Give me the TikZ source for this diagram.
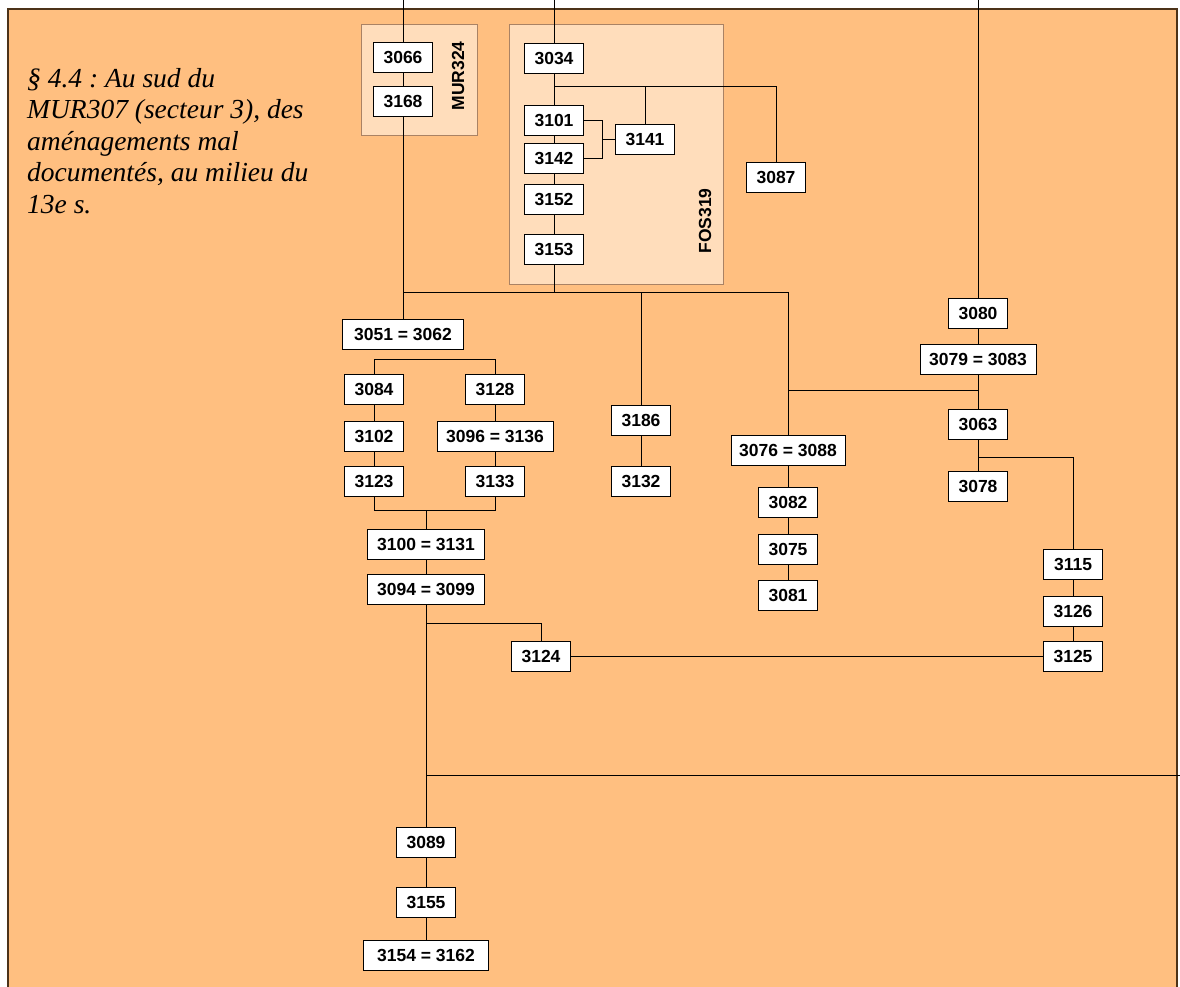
\documentclass[tikz,border=0pt]{standalone}
\usepackage{fontspec}
\setmainfont{Liberation Serif}
\newfontfamily\boxfont{Liberation Sans}
\definecolor{fondorange}{RGB}{255,191,128}
\definecolor{fondpanel}{RGB}{255,221,187}
\definecolor{bordpanel}{RGB}{170,130,100}
\tikzset{
  unit/.style={draw=black, line width=1pt, fill=white, minimum width=59pt, minimum height=30pt,
    inner sep=2pt, font=\boxfont\fontsize{17.5}{19}\bfseries\selectfont},
  unitwide/.style={unit, minimum width=116pt},
  panel/.style={draw=bordpanel, line width=0.8pt, fill=fondpanel},
  tag/.style={rotate=90, font=\boxfont\fontsize{17.5}{19}\bfseries\selectfont},
  link/.style={line width=1pt}
}
\begin{document}
\frenchspacing
\begin{tikzpicture}[x=1pt,y=-1pt]
                \useasboundingbox (0,0) rectangle (1180,986);
                \fill[white] (0,0) rectangle (1180,986);
                \filldraw[fill=fondorange, draw=black!60!brown, line width=1.2pt] (8,9) rectangle (1177,995);

                % groupes
                \draw[panel] (361,24) rectangle (477,135);
                \node[tag] (mur) at (458,76) {MUR324};
                \draw[panel] (509,24) rectangle (723,284);
                \node[tag] (fos) at (705,221) {FOS319};

                \node[anchor=north west, align=left, inner sep=0pt,
                      font=\fontsize{27.5}{31.5}\itshape\selectfont] (titre) at (27,68)
                      {§ 4.4 : Au sud du\\MUR307 (secteur 3), des\\am\'enagements mal\\document\'es, au milieu du\\13e s.};

                % unites
                \node[unit] (u3066) at (403,57) {3066};
                \node[unit] (u3168) at (403,101) {3168};
                \node[unit] (u3034) at (554,58) {3034};
                \node[unit] (u3101) at (554,120) {3101};
                \node[unit] (u3142) at (554,158) {3142};
                \node[unit] (u3141) at (645,139) {3141};
                \node[unit] (u3152) at (554,199) {3152};
                \node[unit] (u3153) at (554,249) {3153};
                \node[unit] (u3087) at (776,177) {3087};
                \node[unit, minimum width=121pt] (u3051) at (403,334) {3051 = 3062};
                \node[unit] (u3084) at (374,389) {3084};
                \node[unit] (u3102) at (374,436) {3102};
                \node[unit] (u3123) at (374,481) {3123};
                \node[unit] (u3128) at (495,389) {3128};
                \node[unitwide] (u3096) at (495,436) {3096 = 3136};
                \node[unit] (u3133) at (495,481) {3133};
                \node[unitwide, minimum width=117pt] (u3100) at (426,544) {3100 = 3131};
                \node[unitwide, minimum width=117pt] (u3094) at (426,589) {3094 = 3099};
                \node[unit] (u3124) at (541,656) {3124};
                \node[unit] (u3089) at (426,842) {3089};
                \node[unit] (u3155) at (426,902) {3155};
                \node[unit, minimum width=125pt] (u3154) at (426,955) {3154 = 3162};
                \node[unit] (u3186) at (641,420) {3186};
                \node[unit] (u3132) at (641,481) {3132};
                \node[unit, minimum width=114pt] (u3076) at (788,450) {3076 = 3088};
                \node[unit] (u3082) at (788,502) {3082};
                \node[unit] (u3075) at (788,549) {3075};
                \node[unit] (u3081) at (788,595) {3081};
                \node[unit] (u3080) at (978,313) {3080};
                \node[unitwide] (u3079) at (978,359) {3079 = 3083};
                \node[unit] (u3063) at (978,424) {3063};
                \node[unit] (u3078) at (978,486) {3078};
                \node[unit] (u3115) at (1073,564) {3115};
                \node[unit] (u3126) at (1073,611) {3126};
                \node[unit] (u3125) at (1073,656) {3125};

                % points de jonction
                \coordinate (h1) at (403,0);
                \coordinate (h2) at (554,0);
                \coordinate (h3) at (978,0);
                \coordinate (j1) at (403,292);
                \coordinate (j2) at (554,86);
                \coordinate (b1) at (602,139);
                \coordinate (j3) at (403,359);
                \coordinate (j4) at (426,510);
                \coordinate (j5) at (426,623);
                \coordinate (j6) at (426,775);
                \coordinate (r6) at (1180,775);
                \coordinate (j7) at (978,390);
                \coordinate (j8) at (978,457);

                % liens
                \begin{scope}[link]
                \draw (h1) -- (u3066);
                \draw (u3066) -- (u3168);
                \draw (u3168) -- (u3051);
                \draw (h2) -- (u3034);
                \draw (u3034) -- (u3101);
                \draw (u3101) -- (u3142);
                \draw (u3142) -- (u3152);
                \draw (u3152) -- (u3153);
                \draw (j2) -| (u3087);
                \draw (j2) -| (u3141);
                \draw (u3101.east) -- (u3101.east -| b1) |- (u3142.east);
                \draw (b1) -- (u3141.west);
                \draw (u3153) -- (u3153 |- j1);
                \draw (j1) -| (u3186);
                \draw (j1) -| (u3076);
                \draw (j3) -| (u3084);
                \draw (j3) -| (u3128);
                \draw (u3084) -- (u3102);
                \draw (u3102) -- (u3123);
                \draw (u3128) -- (u3096);
                \draw (u3096) -- (u3133);
                \draw (u3123) |- (j4) -| (u3133);
                \draw (j4) -- (u3100);
                \draw (u3100) -- (u3094);
                \draw (u3094) -- (u3089);
                \draw (j5) -| (u3124);
                \draw (u3124) -- (u3125);
                \draw (j6) -- (r6);
                \draw (u3089) -- (u3155);
                \draw (u3155) -- (u3154);
                \draw (u3186) -- (u3132);
                \draw (u3076) -- (u3082);
                \draw (u3082) -- (u3075);
                \draw (u3075) -- (u3081);
                \draw (h3) -- (u3080);
                \draw (u3080) -- (u3079);
                \draw (u3079) -- (u3063);
                \draw (u3063) -- (u3078);
                \draw (j7) -- (j7 -| u3076);
                \draw (j8) -| (u3115);
                \draw (u3115) -- (u3126);
                \draw (u3126) -- (u3125);
                \end{scope}
\end{tikzpicture}
\end{document}
